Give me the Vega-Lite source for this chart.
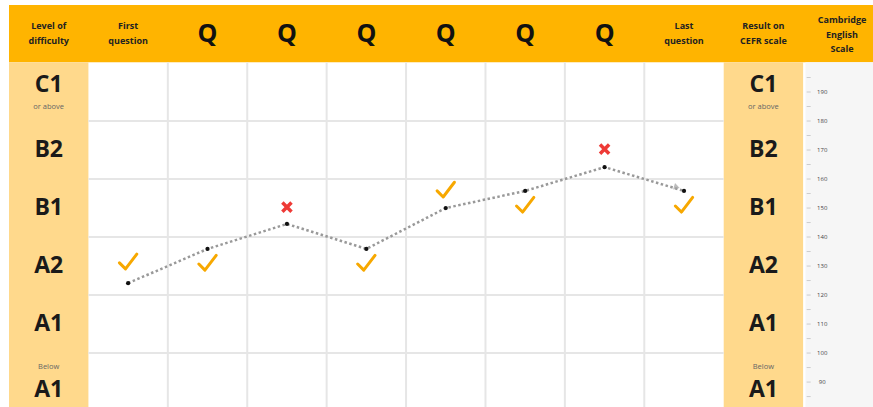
{
  "$schema": "https://vega.github.io/schema/vega-lite/v6.json",
  "width": 864,
  "height": 402,
  "autosize": "none",
  "padding": {"left": 9, "top": 5, "right": 0, "bottom": 0},
  "background": "white",
  "config": {"view": {"stroke": null}, "font": "Open Sans"},
  "datasets": {
    "panels": [
      {"part": "header", "c0": 0, "c1": 10.88, "s0": 200.3, "s1": 220},
      {"part": "level", "c0": 0, "c1": 1, "s0": 81.4, "s1": 200.3},
      {"part": "result", "c0": 9, "c1": 10, "s0": 81.4, "s1": 200.3},
      {"part": "scale", "c0": 10.03, "c1": 10.88, "s0": 81.4, "s1": 200.3}
    ],
    "vgrid": [
      {"c": 2, "s0": 81.4, "s1": 200.3}, {"c": 3, "s0": 81.4, "s1": 200.3},
      {"c": 4, "s0": 81.4, "s1": 200.3}, {"c": 5, "s0": 81.4, "s1": 200.3},
      {"c": 6, "s0": 81.4, "s1": 200.3}, {"c": 7, "s0": 81.4, "s1": 200.3},
      {"c": 8, "s0": 81.4, "s1": 200.3}
    ],
    "hgrid": [
      {"s": 100, "c0": 1, "c1": 9}, {"s": 120, "c0": 1, "c1": 9},
      {"s": 140, "c0": 1, "c1": 9}, {"s": 160, "c0": 1, "c1": 9},
      {"s": 180, "c0": 1, "c1": 9}
    ],
    "headSmall": [
      {"c": 0.5, "s": 212.6, "t": "Level of\ndifficulty"},
      {"c": 1.5, "s": 212.6, "t": "First\nquestion"},
      {"c": 8.5, "s": 212.6, "t": "Last\nquestion"},
      {"c": 9.5, "s": 212.6, "t": "Result on\nCEFR scale"},
      {"c": 10.49, "s": 214.8, "t": "Cambridge\nEnglish\nScale"}
    ],
    "headQ": [
      {"c": 2.5, "s": 210, "t": "Q"}, {"c": 3.5, "s": 210, "t": "Q"},
      {"c": 4.5, "s": 210, "t": "Q"}, {"c": 5.5, "s": 210, "t": "Q"},
      {"c": 6.5, "s": 210, "t": "Q"}, {"c": 7.5, "s": 210, "t": "Q"}
    ],
    "levels": [
      {"c": 0.5, "s": 192.3, "t": "C1"}, {"c": 0.5, "s": 170, "t": "B2"},
      {"c": 0.5, "s": 150, "t": "B1"}, {"c": 0.5, "s": 130, "t": "A2"},
      {"c": 0.5, "s": 110, "t": "A1"}, {"c": 0.5, "s": 87.2, "t": "A1"},
      {"c": 9.5, "s": 192.3, "t": "C1"}, {"c": 9.5, "s": 170, "t": "B2"},
      {"c": 9.5, "s": 150, "t": "B1"}, {"c": 9.5, "s": 130, "t": "A2"},
      {"c": 9.5, "s": 110, "t": "A1"}, {"c": 9.5, "s": 87.2, "t": "A1"}
    ],
    "levelNotes": [
      {"c": 0.5, "s": 184.9, "t": "or above"}, {"c": 0.5, "s": 95.1, "t": "Below"},
      {"c": 9.5, "s": 184.9, "t": "or above"}, {"c": 9.5, "s": 95.1, "t": "Below"}
    ],
    "scaleTicks": [
      {"v": 85}, {"v": 90}, {"v": 95}, {"v": 100}, {"v": 105}, {"v": 110}, {"v": 115},
      {"v": 120}, {"v": 125}, {"v": 130}, {"v": 135}, {"v": 140}, {"v": 145}, {"v": 150},
      {"v": 155}, {"v": 160}, {"v": 165}, {"v": 170}, {"v": 175}, {"v": 180}, {"v": 185},
      {"v": 190}, {"v": 195}
    ],
    "scaleLabels": [
      {"v": 90, "t": "90"}, {"v": 100, "t": "100"}, {"v": 110, "t": "110"},
      {"v": 120, "t": "120"}, {"v": 130, "t": "130"}, {"v": 140, "t": "140"},
      {"v": 150, "t": "150"}, {"v": 160, "t": "160"}, {"v": 170, "t": "170"},
      {"v": 180, "t": "180"}, {"v": 190, "t": "190"}
    ],
    "path": [
      {"col": 1.5, "score": 124.1}, {"col": 2.5, "score": 135.9},
      {"col": 3.5, "score": 144.5}, {"col": 4.5, "score": 135.9},
      {"col": 5.5, "score": 150}, {"col": 6.5, "score": 155.9},
      {"col": 7.5, "score": 164.1}, {"col": 8.5, "score": 155.9}
    ],
    "answers": [
      {"col": 1.5, "pos": 131.4, "result": "correct"},
      {"col": 2.5, "pos": 131, "result": "correct"},
      {"col": 3.5, "pos": 150.3, "result": "wrong"},
      {"col": 4.5, "pos": 131, "result": "correct"},
      {"col": 5.5, "pos": 156.2, "result": "correct"},
      {"col": 6.5, "pos": 151, "result": "correct"},
      {"col": 7.5, "pos": 170.3, "result": "wrong"},
      {"col": 8.5, "pos": 151, "result": "correct"}
    ],
    "arrow": [{"col": 8.41, "score": 157.2}]
  },
  "layer": [
    {
      "data": {"name": "panels"},
      "mark": {"type": "rect"},
      "encoding": {
        "x": {"field": "c0", "type": "quantitative", "scale": {"domain": [0, 10.88], "nice": false, "zero": false}, "axis": null},
        "x2": {"field": "c1"},
        "y": {"field": "s0", "type": "quantitative", "scale": {"domain": [81.4, 220], "nice": false, "zero": false}, "axis": null},
        "y2": {"field": "s1"},
        "color": {"field": "part", "type": "nominal", "legend": null,
          "scale": {"domain": ["header", "level", "result", "scale"], "range": ["#FFB400", "#FFD98C", "#FFD98C", "#F6F6F6"]}}
      }
    },
    {
      "data": {"name": "vgrid"},
      "mark": {"type": "rule", "color": "#E6E6E6", "strokeWidth": 2},
      "encoding": {
        "x": {"field": "c", "type": "quantitative"},
        "y": {"field": "s0", "type": "quantitative"},
        "y2": {"field": "s1"}
      }
    },
    {
      "data": {"name": "hgrid"},
      "mark": {"type": "rule", "color": "#E6E6E6", "strokeWidth": 2},
      "encoding": {
        "y": {"field": "s", "type": "quantitative"},
        "x": {"field": "c0", "type": "quantitative"},
        "x2": {"field": "c1"}
      }
    },
    {
      "data": {"name": "headSmall"},
      "mark": {"type": "text", "fontSize": 9, "fontWeight": "bold", "color": "#222", "lineBreak": "\n", "lineHeight": 14.5, "align": "center", "baseline": "middle"},
      "encoding": {
        "x": {"field": "c", "type": "quantitative"},
        "y": {"field": "s", "type": "quantitative"},
        "text": {"field": "t"}
      }
    },
    {
      "data": {"name": "headQ"},
      "mark": {"type": "text", "fontSize": 25, "fontWeight": "bold", "color": "#111", "align": "center", "baseline": "middle"},
      "encoding": {
        "x": {"field": "c", "type": "quantitative"},
        "y": {"field": "s", "type": "quantitative"},
        "text": {"field": "t"}
      }
    },
    {
      "data": {"name": "levels"},
      "mark": {"type": "text", "fontSize": 23, "fontWeight": "bold", "color": "#1a1a1a", "align": "center", "baseline": "middle"},
      "encoding": {
        "x": {"field": "c", "type": "quantitative"},
        "y": {"field": "s", "type": "quantitative"},
        "text": {"field": "t"}
      }
    },
    {
      "data": {"name": "levelNotes"},
      "mark": {"type": "text", "fontSize": 7.5, "color": "#666", "align": "center", "baseline": "middle"},
      "encoding": {
        "x": {"field": "c", "type": "quantitative"},
        "y": {"field": "s", "type": "quantitative"},
        "text": {"field": "t"}
      }
    },
    {
      "data": {"name": "scaleTicks"},
      "mark": {"type": "tick", "orient": "horizontal", "color": "#BBBBBB", "size": 4, "thickness": 1},
      "encoding": {
        "x": {"datum": 10.07, "type": "quantitative"},
        "y": {"field": "v", "type": "quantitative"}
      }
    },
    {
      "data": {"name": "scaleLabels"},
      "mark": {"type": "text", "fontSize": 6, "color": "#444", "align": "center", "baseline": "middle"},
      "encoding": {
        "x": {"datum": 10.24, "type": "quantitative"},
        "y": {"field": "v", "type": "quantitative"},
        "text": {"field": "t"}
      }
    },
    {
      "data": {"name": "path"},
      "mark": {"type": "line", "color": "#999999", "strokeWidth": 2.5, "strokeDash": [2.5, 2.5]},
      "encoding": {
        "x": {"field": "col", "type": "quantitative"},
        "y": {"field": "score", "type": "quantitative"}
      }
    },
    {
      "data": {"name": "arrow"},
      "mark": {"type": "point", "shape": "triangle-right", "filled": true, "color": "#A0A0A0", "size": 45, "angle": 17},
      "encoding": {
        "x": {"field": "col", "type": "quantitative"},
        "y": {"field": "score", "type": "quantitative"}
      }
    },
    {
      "data": {"name": "path"},
      "mark": {"type": "point", "filled": true, "color": "#111", "size": 18, "opacity": 1},
      "encoding": {
        "x": {"field": "col", "type": "quantitative"},
        "y": {"field": "score", "type": "quantitative"}
      }
    },
    {
      "data": {"name": "answers"},
      "transform": [{"filter": "datum.result === 'correct'"}],
      "mark": {"type": "point", "filled": false, "shape": "M -1 0.1 L -0.3 0.8 L 1 -0.9", "color": "#F7A800", "strokeWidth": 3, "size": 300, "opacity": 1, "strokeCap": "round", "strokeJoin": "round"},
      "encoding": {
        "x": {"field": "col", "type": "quantitative"},
        "y": {"field": "pos", "type": "quantitative"}
      }
    },
    {
      "data": {"name": "answers"},
      "transform": [{"filter": "datum.result === 'wrong'"}],
      "mark": {"type": "point", "filled": false, "shape": "M -0.8 -0.8 L 0.8 0.8 M -0.8 0.8 L 0.8 -0.8", "color": "#EE3A36", "strokeWidth": 3.5, "size": 130, "opacity": 1},
      "encoding": {
        "x": {"field": "col", "type": "quantitative"},
        "y": {"field": "pos", "type": "quantitative"}
      }
    }
  ]
}
